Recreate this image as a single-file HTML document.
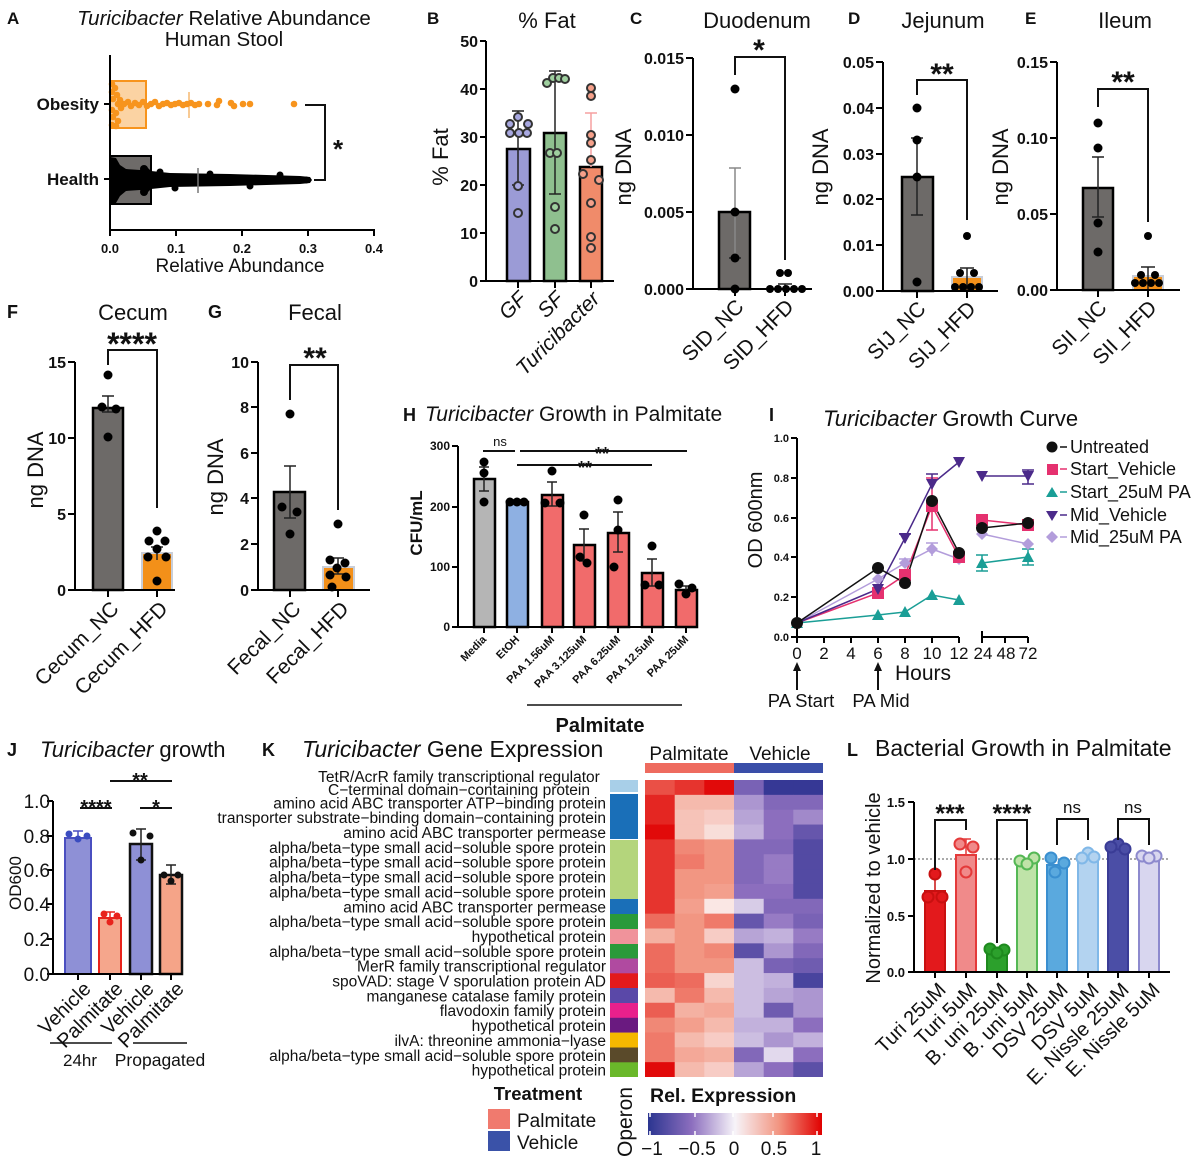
<!DOCTYPE html>
<html><head><meta charset="utf-8"><style>
html,body{margin:0;padding:0;background:#fff}
svg{display:block}
text{font-family:"Liberation Sans",Arial,sans-serif;fill:#111}
.b{font-weight:bold}
.ax{stroke:#000;stroke-width:2;fill:none}
.eb{stroke:#222;stroke-width:1.5;fill:none}
.br{stroke:#111;stroke-width:2;fill:none}
</style></head><body>
<svg width="1200" height="1165" viewBox="0 0 1200 1165" xmlns="http://www.w3.org/2000/svg">
<rect width="1200" height="1165" fill="#fff"/>

<!-- ================= A ================= -->
<text x="7" y="24" class="b" font-size="17">A</text>
<text x="224" y="25" text-anchor="middle" font-size="20.5"><tspan font-style="italic">Turicibacter</tspan> Relative Abundance</text>
<text x="224" y="46" text-anchor="middle" font-size="20.5">Human Stool</text>
<rect x="110" y="81" width="36" height="47" fill="#fbd3a3" stroke="#f7941d" stroke-width="2"/>
<line x1="189" y1="92" x2="189" y2="118" stroke="#f5b870" stroke-width="1.5"/>
<g fill="#f7941d">
<circle cx="112" cy="84" r="3.3"/><circle cx="115" cy="88" r="3.3"/><circle cx="112" cy="92" r="3.3"/><circle cx="117" cy="95" r="3.3"/><circle cx="113" cy="99" r="3.3"/><circle cx="120" cy="100" r="3.3"/><circle cx="112" cy="110" r="3.3"/><circle cx="116" cy="113" r="3.3"/><circle cx="113" cy="117" r="3.3"/><circle cx="118" cy="121" r="3.3"/><circle cx="112" cy="125" r="3.3"/><circle cx="116" cy="126" r="3.3"/><circle cx="121" cy="108" r="3.3"/><circle cx="124" cy="104" r="3.3"/>
<circle cx="118" cy="104" r="3.3"/><circle cx="128" cy="102" r="3.3"/><circle cx="131" cy="106" r="3.3"/><circle cx="135" cy="103" r="3.3"/><circle cx="139" cy="105" r="3.3"/><circle cx="143" cy="102" r="3.3"/><circle cx="147" cy="106" r="3.3"/><circle cx="151" cy="104" r="3.3"/><circle cx="155" cy="102" r="3.3"/><circle cx="159" cy="106" r="3.3"/><circle cx="163" cy="104" r="3.3"/><circle cx="167" cy="103" r="3.3"/><circle cx="171" cy="105" r="3.3"/><circle cx="175" cy="104" r="3.3"/><circle cx="179" cy="103" r="3.3"/><circle cx="183" cy="105" r="3.3"/><circle cx="187" cy="104" r="3.3"/><circle cx="191" cy="103" r="3.3"/><circle cx="195" cy="105" r="3.3"/><circle cx="199" cy="104" r="3.3"/>
<circle cx="208" cy="104" r="3.3"/><circle cx="217" cy="105" r="3.3"/><circle cx="219" cy="101" r="3.3"/><circle cx="231" cy="103" r="3.3"/><circle cx="234" cy="106" r="3.3"/><circle cx="243" cy="104" r="3.3"/><circle cx="250" cy="104" r="3.3"/><circle cx="294" cy="104" r="3.3"/>
</g>
<rect x="110" y="156" width="41" height="48" fill="#6e6b69" stroke="#000" stroke-width="2"/>
<path d="M110,157 L116,158 L120,165 L126,169 L140,170 L146,166 L151,171 L170,173 L230,174 L300,176 L310,177 L312,180 L310,183 L300,184 L230,186 L170,187 L151,189 L146,194 L140,190 L126,191 L120,196 L116,203 L110,204 Z" fill="#000"/>
<g fill="#000"><circle cx="144" cy="169" r="4"/><circle cx="144" cy="192" r="4"/><circle cx="160" cy="172" r="3.5"/><circle cx="175" cy="188" r="3.5"/><circle cx="210" cy="174" r="3.5"/><circle cx="250" cy="186" r="3.5"/><circle cx="280" cy="175" r="3.5"/><circle cx="306" cy="180" r="3.5"/></g>
<line x1="198" y1="168" x2="198" y2="193" stroke="#777" stroke-width="1.5"/>
<path class="ax" d="M110,55 V230 H375"/>
<path class="ax" d="M104,104 H110 M104,179 H110 M110,230 V236 M176,230 V236 M242,230 V236 M308,230 V236 M374,230 V236"/>
<g class="b" font-size="13" text-anchor="middle"><text x="110" y="253">0.0</text><text x="176" y="253">0.1</text><text x="242" y="253">0.2</text><text x="308" y="253">0.3</text><text x="374" y="253">0.4</text></g>
<text x="240" y="272" text-anchor="middle" font-size="19">Relative Abundance</text>
<text x="99" y="110" text-anchor="end" class="b" font-size="17">Obesity</text>
<text x="99" y="185" text-anchor="end" class="b" font-size="17">Health</text>
<path class="br" d="M305,105 H325 V180 H314"/>
<text x="338" y="158" text-anchor="middle" class="b" font-size="26">*</text>

<!-- ================= B ================= -->
<text x="427" y="24" class="b" font-size="17">B</text>
<text x="547" y="28" text-anchor="middle" font-size="22">% Fat</text>
<text transform="translate(448,157) rotate(-90)" text-anchor="middle" font-size="22">% Fat</text>
<rect x="507" y="149" width="23" height="132" fill="#9b9bd6" stroke="#000" stroke-width="2.5"/>
<rect x="544" y="133" width="22" height="148" fill="#8fc08f" stroke="#000" stroke-width="2.5"/>
<rect x="580" y="167" width="22" height="114" fill="#f08b6a" stroke="#000" stroke-width="2.5"/>
<path class="eb" stroke="#333" d="M518,111 V185 M512,111 h12 M512,185 h12 M555,71 V194 M549,71 h12 M549,194 h12"/>
<path d="M591,113 V167 M585,113 h12" stroke="#f5a0a0" stroke-width="1.5" fill="none"/>
<g stroke="#333" stroke-width="2">
<g fill="#a8a8e0"><circle cx="518" cy="117" r="4"/><circle cx="510" cy="124" r="4"/><circle cx="528" cy="124" r="4"/><circle cx="519" cy="133" r="4"/><circle cx="527" cy="133" r="4"/><circle cx="510" cy="133" r="4"/><circle cx="518" cy="186" r="4"/><circle cx="518" cy="213" r="4"/></g>
<g fill="#9fd09f"><circle cx="547" cy="83" r="4"/><circle cx="553" cy="78" r="4"/><circle cx="559" cy="78" r="4"/><circle cx="565" cy="79" r="4"/><circle cx="550" cy="153" r="4"/><circle cx="557" cy="153" r="4"/><circle cx="555" cy="207" r="4"/><circle cx="555" cy="229" r="4"/></g>
<g fill="#f5a08a"><circle cx="591" cy="88" r="4"/><circle cx="591" cy="96" r="4"/><circle cx="591" cy="135" r="4"/><circle cx="591" cy="143" r="4"/><circle cx="591" cy="160" r="4"/><circle cx="583" cy="174" r="4"/><circle cx="599" cy="180" r="4"/><circle cx="591" cy="203" r="4"/><circle cx="591" cy="237" r="4"/><circle cx="591" cy="248" r="4"/></g>
</g>
<path class="ax" d="M486,41 V281 H614"/>
<path class="ax" d="M480,41 H486 M480,89 H486 M480,137 H486 M480,185 H486 M480,233 H486 M480,281 H486 M518,281 V288 M555,281 V288 M591,281 V288"/>
<g class="b" font-size="16" text-anchor="end"><text x="478" y="47">50</text><text x="478" y="95">40</text><text x="478" y="143">30</text><text x="478" y="191">20</text><text x="478" y="239">10</text><text x="478" y="287">0</text></g>
<g font-size="21" text-anchor="end" font-style="italic">
<text transform="translate(528,300) rotate(-45)">GF</text>
<text transform="translate(565,300) rotate(-45)">SF</text>
<text transform="translate(601,300) rotate(-45)">Turicibacter</text>
</g>

<!-- ================= C ================= -->
<text x="630" y="24" class="b" font-size="17">C</text>
<text x="757" y="28" text-anchor="middle" font-size="22">Duodenum</text>
<text transform="translate(631,167) rotate(-90)" text-anchor="middle" font-size="22">ng DNA</text>
<rect x="719" y="212" width="31" height="77" fill="#6d6a68" stroke="#000" stroke-width="2.5"/>
<path d="M735,168 V258 M729,168 h12" stroke="#888" stroke-width="1.5" fill="none"/>
<path class="eb" d="M729,258 h12 M785,284 V289 M778,284 h14"/>
<g fill="#000"><circle cx="735" cy="89" r="4.5"/><circle cx="735" cy="212" r="4.5"/><circle cx="735" cy="258" r="4.5"/><circle cx="735" cy="289" r="4.5"/>
<circle cx="780" cy="273" r="4"/><circle cx="788" cy="273" r="4"/><circle cx="770" cy="289" r="4"/><circle cx="778" cy="289" r="4"/><circle cx="786" cy="289" r="4"/><circle cx="794" cy="289" r="4"/><circle cx="802" cy="289" r="4"/></g>
<path class="ax" d="M693,58 V289 H812"/>
<path class="ax" d="M686,58 H693 M686,135 H693 M686,212 H693 M686,289 H693 M735,289 V296 M785,289 V296"/>
<g class="b" font-size="16" text-anchor="end"><text x="684" y="64">0.015</text><text x="684" y="141">0.010</text><text x="684" y="218">0.005</text><text x="684" y="295">0.000</text></g>
<path class="br" d="M735,75 V57 H785 V260"/>
<text x="759" y="60" text-anchor="middle" class="b" font-size="30">*</text>
<g font-size="21" text-anchor="end"><text transform="translate(745,308) rotate(-45)">SID_NC</text><text transform="translate(795,308) rotate(-45)">SID_HFD</text></g>

<!-- ================= D ================= -->
<text x="848" y="24" class="b" font-size="17">D</text>
<text x="943" y="28" text-anchor="middle" font-size="22">Jejunum</text>
<text transform="translate(828,167) rotate(-90)" text-anchor="middle" font-size="22">ng DNA</text>
<rect x="902" y="177" width="31" height="114" fill="#6d6a68" stroke="#000" stroke-width="2.5"/>
<rect x="952" y="277" width="30" height="14" fill="#f39019" stroke="#c9ced8" stroke-width="2"/>
<path class="eb" d="M917,138 V215 M911,138 h12 M911,215 h12 M967,268 V291 M960,268 h14"/>
<g fill="#000"><circle cx="917" cy="108" r="4.5"/><circle cx="917" cy="140" r="4.5"/><circle cx="917" cy="177" r="4.5"/><circle cx="917" cy="282" r="4.5"/>
<circle cx="967" cy="236" r="4"/><circle cx="960" cy="273" r="4"/><circle cx="974" cy="273" r="4"/><circle cx="955" cy="287" r="4"/><circle cx="963" cy="287" r="4"/><circle cx="971" cy="287" r="4"/><circle cx="979" cy="287" r="4"/></g>
<path class="ax" d="M883,62 V291 H998"/>
<path class="ax" d="M876,62 H883 M876,108 H883 M876,154 H883 M876,199 H883 M876,245 H883 M876,291 H883 M917,291 V298 M967,291 V298"/>
<g class="b" font-size="16" text-anchor="end"><text x="874" y="68">0.05</text><text x="874" y="114">0.04</text><text x="874" y="160">0.03</text><text x="874" y="205">0.02</text><text x="874" y="251">0.01</text><text x="874" y="297">0.00</text></g>
<path class="br" d="M917,95 V80 H967 V220"/>
<text x="942" y="84" text-anchor="middle" class="b" font-size="30">**</text>
<g font-size="21" text-anchor="end"><text transform="translate(927,310) rotate(-45)">SIJ_NC</text><text transform="translate(977,310) rotate(-45)">SIJ_HFD</text></g>

<!-- ================= E ================= -->
<text x="1025" y="24" class="b" font-size="17">E</text>
<text x="1125" y="28" text-anchor="middle" font-size="22">Ileum</text>
<text transform="translate(1008,167) rotate(-90)" text-anchor="middle" font-size="22">ng DNA</text>
<rect x="1083" y="188" width="30" height="102" fill="#6d6a68" stroke="#000" stroke-width="2.5"/>
<rect x="1133" y="276" width="30" height="14" fill="#f39019" stroke="#c9ced8" stroke-width="2"/>
<path class="eb" d="M1098,157 V217 M1092,157 h12 M1092,217 h12 M1148,267 V290 M1141,267 h14"/>
<g fill="#000"><circle cx="1098" cy="123" r="4.5"/><circle cx="1098" cy="148" r="4.5"/><circle cx="1098" cy="223" r="4.5"/><circle cx="1098" cy="252" r="4.5"/>
<circle cx="1148" cy="236" r="4"/><circle cx="1141" cy="275" r="4"/><circle cx="1155" cy="275" r="4"/><circle cx="1135" cy="283" r="4"/><circle cx="1143" cy="283" r="4"/><circle cx="1151" cy="283" r="4"/><circle cx="1159" cy="283" r="4"/></g>
<path class="ax" d="M1057,62 V290 H1180"/>
<path class="ax" d="M1050,62 H1057 M1050,138 H1057 M1050,214 H1057 M1050,290 H1057 M1098,290 V297 M1148,290 V297"/>
<g class="b" font-size="16" text-anchor="end"><text x="1048" y="68">0.15</text><text x="1048" y="144">0.10</text><text x="1048" y="220">0.05</text><text x="1048" y="296">0.00</text></g>
<path class="br" d="M1098,107 V89 H1148 V222"/>
<text x="1123" y="92" text-anchor="middle" class="b" font-size="30">**</text>
<g font-size="21" text-anchor="end"><text transform="translate(1108,309) rotate(-45)">SII_NC</text><text transform="translate(1158,309) rotate(-45)">SII_HFD</text></g>

<!-- ================= F ================= -->
<text x="7" y="318" class="b" font-size="18">F</text>
<text x="133" y="320" text-anchor="middle" font-size="22">Cecum</text>
<text transform="translate(43,470) rotate(-90)" text-anchor="middle" font-size="22">ng DNA</text>
<rect x="93" y="408" width="30" height="182" fill="#6d6a68" stroke="#000" stroke-width="2.5"/>
<rect x="142" y="553" width="30" height="37" fill="#f39019" stroke="#c9ced8" stroke-width="2"/>
<path class="eb" d="M108,396 V412 M102,396 h12 M102,412 h12 M157,547 V560 M151,547 h12"/>
<g fill="#000"><circle cx="108" cy="375" r="4.5"/><circle cx="102" cy="407" r="4.5"/><circle cx="116" cy="409" r="4.5"/><circle cx="108" cy="437" r="4.5"/>
<circle cx="157" cy="531" r="4.5"/><circle cx="149" cy="541" r="4.5"/><circle cx="165" cy="541" r="4.5"/><circle cx="157" cy="549" r="4.5"/><circle cx="148" cy="557" r="4.5"/><circle cx="166" cy="557" r="4.5"/><circle cx="157" cy="581" r="4.5"/></g>
<path class="ax" d="M75,362 V590 H175"/>
<path class="ax" d="M68,362 H75 M68,438 H75 M68,514 H75 M68,590 H75 M108,590 V597 M157,590 V597"/>
<g class="b" font-size="16" text-anchor="end"><text x="66" y="368">15</text><text x="66" y="444">10</text><text x="66" y="520">5</text><text x="66" y="596">0</text></g>
<path class="br" d="M108,365 V350 H157 V508"/>
<text x="132" y="355" text-anchor="middle" class="b" font-size="32">****</text>
<g font-size="21" text-anchor="end"><text transform="translate(120,610) rotate(-45)">Cecum_NC</text><text transform="translate(169,610) rotate(-45)">Cecum_HFD</text></g>

<!-- ================= G ================= -->
<text x="208" y="318" class="b" font-size="18">G</text>
<text x="315" y="320" text-anchor="middle" font-size="22">Fecal</text>
<text transform="translate(223,477) rotate(-90)" text-anchor="middle" font-size="22">ng DNA</text>
<rect x="274" y="492" width="31" height="98" fill="#6d6a68" stroke="#000" stroke-width="2.5"/>
<rect x="323" y="567" width="31" height="23" fill="#f39019" stroke="#c9ced8" stroke-width="2"/>
<path class="eb" d="M290,466 V518 M284,466 h12 M284,518 h12 M338,558 V574 M332,558 h12 M332,574 h12"/>
<g fill="#000"><circle cx="290" cy="414" r="4.5"/><circle cx="282" cy="507" r="4.5"/><circle cx="297" cy="512" r="4.5"/><circle cx="290" cy="534" r="4.5"/>
<circle cx="338" cy="524" r="4.5"/><circle cx="330" cy="560" r="4.5"/><circle cx="345" cy="563" r="4.5"/><circle cx="337" cy="568" r="4.5"/><circle cx="330" cy="575" r="4.5"/><circle cx="346" cy="577" r="4.5"/><circle cx="332" cy="587" r="4.5"/></g>
<path class="ax" d="M258,362 V590 H370"/>
<path class="ax" d="M251,362 H258 M251,407 H258 M251,453 H258 M251,498 H258 M251,544 H258 M251,590 H258 M290,590 V597 M338,590 V597"/>
<g class="b" font-size="16" text-anchor="end"><text x="249" y="368">10</text><text x="249" y="413">8</text><text x="249" y="459">6</text><text x="249" y="504">4</text><text x="249" y="550">2</text><text x="249" y="596">0</text></g>
<path class="br" d="M290,400 V365 H338 V510"/>
<text x="315" y="368" text-anchor="middle" class="b" font-size="30">**</text>
<g font-size="21" text-anchor="end"><text transform="translate(302,610) rotate(-45)">Fecal_NC</text><text transform="translate(350,610) rotate(-45)">Fecal_HFD</text></g>

<!-- ================= H ================= -->
<text x="403" y="421" class="b" font-size="18">H</text>
<text x="425" y="421" font-size="21"><tspan font-style="italic">Turicibacter</tspan> Growth in Palmitate</text>
<text transform="translate(422,523) rotate(-90)" text-anchor="middle" class="b" font-size="17">CFU/mL</text>
<g stroke="#000" stroke-width="2.5">
<rect x="474" y="479" width="21" height="148" fill="#b5b5b5"/>
<rect x="507" y="502" width="21" height="125" fill="#8eb0e2"/>
<g fill="#f16b6b">
<rect x="542" y="495" width="21" height="132"/>
<rect x="574" y="545" width="21" height="82"/>
<rect x="608" y="533" width="21" height="94"/>
<rect x="642" y="573" width="21" height="54"/>
<rect x="676" y="590" width="21" height="37"/>
</g></g>
<path class="eb" d="M484,467 V491 M479,467 h10 M479,491 h10 M552,482 V506 M547,482 h10 M547,506 h10 M584,529 V561 M579,529 h10 M579,561 h10 M618,512 V552 M613,512 h10 M613,552 h10 M652,559 V586 M647,559 h10 M647,586 h10 M686,586 V593 M681,586 h10"/>
<g fill="#000">
<circle cx="484" cy="462" r="4.5"/><circle cx="484" cy="473" r="4.5"/><circle cx="484" cy="502" r="4.5"/>
<circle cx="510" cy="502" r="4.5"/><circle cx="517" cy="502" r="4.5"/><circle cx="524" cy="502" r="4.5"/>
<circle cx="552" cy="471" r="4.5"/><circle cx="545" cy="503" r="4.5"/><circle cx="560" cy="503" r="4.5"/>
<circle cx="584" cy="515" r="4.5"/><circle cx="580" cy="557" r="4.5"/><circle cx="587" cy="563" r="4.5"/>
<circle cx="618" cy="500" r="4.5"/><circle cx="618" cy="530" r="4.5"/><circle cx="614" cy="567" r="4.5"/>
<circle cx="652" cy="546" r="4.5"/><circle cx="645" cy="585" r="4.5"/><circle cx="659" cy="585" r="4.5"/>
<circle cx="679" cy="584" r="4.5"/><circle cx="692" cy="588" r="4.5"/><circle cx="686" cy="594" r="4.5"/>
</g>
<path class="ax" d="M458,446 V627 H693"/>
<path class="ax" d="M452,446 H458 M452,507 H458 M452,567 H458 M452,627 H458 M484,627 V633 M517,627 V633 M552,627 V633 M584,627 V633 M618,627 V633 M652,627 V633 M686,627 V633"/>
<g class="b" font-size="12" text-anchor="end"><text x="450" y="450">300</text><text x="450" y="511">200</text><text x="450" y="571">100</text><text x="450" y="631">0</text></g>
<path d="M483,451 H515 M520,451 H687 M517,465 H652" stroke="#111" stroke-width="2"/>
<text x="500" y="446" text-anchor="middle" font-size="13">ns</text>
<text x="602" y="460" text-anchor="middle" class="b" font-size="18">**</text>
<text x="585" y="474" text-anchor="middle" class="b" font-size="18">**</text>
<g class="b" font-size="11" text-anchor="end">
<text transform="translate(487,640) rotate(-45)">Media</text>
<text transform="translate(520,640) rotate(-45)">EtOH</text>
<text transform="translate(555,640) rotate(-45)">PAA 1.56uM</text>
<text transform="translate(587,640) rotate(-45)">PAA 3.125uM</text>
<text transform="translate(621,640) rotate(-45)">PAA 6.25uM</text>
<text transform="translate(655,640) rotate(-45)">PAA 12.5uM</text>
<text transform="translate(689,640) rotate(-45)">PAA 25uM</text>
</g>
<line x1="527" y1="705" x2="682" y2="705" stroke="#111" stroke-width="1.5"/>
<text x="600" y="732" text-anchor="middle" class="b" font-size="20">Palmitate</text>

<!-- ================= I ================= -->
<text x="769" y="421" class="b" font-size="18">I</text>
<text x="823" y="426" font-size="22"><tspan font-style="italic">Turicibacter</tspan> Growth Curve</text>
<text transform="translate(762,520) rotate(-90)" text-anchor="middle" font-size="20">OD 600nm</text>
<path class="ax" d="M797,438 V637 H959 M982,637 H1028"/>
<path class="ax" d="M791,438 H797 M791,478 H797 M791,518 H797 M791,557 H797 M791,597 H797 M791,637 H797 M797,637 V643 M824,637 V643 M851,637 V643 M878,637 V643 M905,637 V643 M932,637 V643 M959,637 V643 M982,631 V643 M1005,637 V643 M1028,637 V643"/>
<g class="b" font-size="11" text-anchor="end"><text x="789" y="442">1.0</text><text x="789" y="482">0.8</text><text x="789" y="522">0.6</text><text x="789" y="561">0.4</text><text x="789" y="601">0.2</text><text x="789" y="641">0.0</text></g>
<g font-size="17" text-anchor="middle"><text x="797" y="659">0</text><text x="824" y="659">2</text><text x="851" y="659">4</text><text x="878" y="659">6</text><text x="905" y="659">8</text><text x="932" y="659">10</text><text x="959" y="659">12</text><text x="983" y="659">24</text><text x="1006" y="659">48</text><text x="1028" y="659">72</text></g>
<text x="923" y="680" text-anchor="middle" font-size="21">Hours</text>
<path d="M797,690 V668 M878,690 V668" stroke="#111" stroke-width="2"/>
<path d="M797,662 L793,671 L801,671 Z M878,662 L874,671 L882,671 Z" fill="#111"/>
<text x="801" y="707" text-anchor="middle" font-size="18.5">PA Start</text>
<text x="881" y="707" text-anchor="middle" font-size="18.5">PA Mid</text>
<g fill="none" stroke-width="1.5">
<polyline stroke="#1a9e96" points="797,623 878,615 905,612 932,595 959,600"/><polyline stroke="#1a9e96" points="982,563 1028,557"/>
<polyline stroke="#b39ddb" points="797,623 878,579 905,563 932,549 959,559"/><polyline stroke="#b39ddb" points="982,534 1028,544"/>
<polyline stroke="#e5316f" points="797,623 878,593 905,575 932,506 959,557"/><polyline stroke="#e5316f" points="982,520 1028,525"/>
<polyline stroke="#4b2a8a" points="797,623 878,589 905,538 932,484 959,462"/><polyline stroke="#4b2a8a" points="982,476 1028,476"/>
<polyline stroke="#111" points="797,623 878,568 905,583 932,501 959,553"/><polyline stroke="#111" points="982,528 1028,523"/>
<path stroke="#1a9e96" d="M982,555 V571 M976,555 h12 M976,571 h12 M1028,549 V565 M1022,549 h12 M1022,565 h12"/>
<path stroke="#b39ddb" d="M932,543 V556 M926,543 h12 M905,559 V567 M899,559 h12"/>
<path stroke="#e5316f" d="M932,478 V530 M926,478 h12 M926,530 h12"/>
<path stroke="#4b2a8a" d="M905,534 V543 M899,534 h12 M1028,470 V484 M1022,470 h12 M1022,484 h12 M932,474 V481 M926,474 h12"/>
</g>
<g fill="#1a9e96"><path d="M797,617 l-6,11 h12 Z M878,609 l-6,11 h12 Z M905,606 l-6,11 h12 Z M932,589 l-6,11 h12 Z M959,594 l-6,11 h12 Z M982,557 l-6,11 h12 Z M1028,551 l-6,11 h12 Z"/></g>
<g fill="#b39ddb"><path d="M878,573 l6,6 l-6,6 l-6,-6 Z M905,557 l6,6 l-6,6 l-6,-6 Z M932,543 l6,6 l-6,6 l-6,-6 Z M959,553 l6,6 l-6,6 l-6,-6 Z M982,528 l6,6 l-6,6 l-6,-6 Z M1028,538 l6,6 l-6,6 l-6,-6 Z"/></g>
<g fill="#e5316f"><rect x="872" y="587" width="12" height="12"/><rect x="899" y="569" width="12" height="12"/><rect x="926" y="500" width="12" height="12"/><rect x="953" y="551" width="12" height="12"/><rect x="976" y="514" width="12" height="12"/><rect x="1022" y="519" width="12" height="12"/></g>
<g fill="#4b2a8a"><path d="M872,584 h12 l-6,11 Z M899,533 h12 l-6,11 Z M926,479 h12 l-6,11 Z M953,457 h12 l-6,11 Z M976,471 h12 l-6,11 Z M1022,471 h12 l-6,11 Z"/></g>
<g fill="#111"><circle cx="797" cy="623" r="6"/><circle cx="878" cy="568" r="6"/><circle cx="905" cy="583" r="6"/><circle cx="932" cy="501" r="6"/><circle cx="959" cy="553" r="6"/><circle cx="982" cy="528" r="6"/><circle cx="1028" cy="523" r="6"/></g>
<g font-size="18">
<circle cx="1052" cy="447" r="5.5" fill="#111"/><line x1="1060" y1="447" x2="1067" y2="447" stroke="#111" stroke-width="1.5"/><text x="1070" y="453">Untreated</text>
<rect x="1047" y="464" width="11" height="11" fill="#e5316f"/><line x1="1060" y1="469" x2="1067" y2="469" stroke="#e5316f" stroke-width="1.5"/><text x="1070" y="475">Start_Vehicle</text>
<path d="M1052,487 l-6,10 h12 Z" fill="#1a9e96"/><line x1="1060" y1="492" x2="1067" y2="492" stroke="#1a9e96" stroke-width="1.5"/><text x="1070" y="498">Start_25uM PA</text>
<path d="M1046,511 h12 l-6,10 Z" fill="#4b2a8a"/><line x1="1060" y1="515" x2="1067" y2="515" stroke="#4b2a8a" stroke-width="1.5"/><text x="1070" y="521">Mid_Vehicle</text>
<path d="M1052,531 l6,6 l-6,6 l-6,-6 Z" fill="#b39ddb"/><line x1="1060" y1="537" x2="1067" y2="537" stroke="#b39ddb" stroke-width="1.5"/><text x="1070" y="543">Mid_25uM PA</text>
</g>

<!-- ================= J ================= -->
<text x="7" y="756" class="b" font-size="18">J</text>
<text x="40" y="757" font-size="22"><tspan font-style="italic">Turicibacter</tspan> growth</text>
<text transform="translate(21,883) rotate(-90)" text-anchor="middle" font-size="17">OD600</text>
<rect x="65" y="838" width="26" height="136" fill="#8e90d6" stroke="#4a4fc0" stroke-width="2"/>
<rect x="99" y="918" width="22" height="56" fill="#f5a68c" stroke="#e8231c" stroke-width="2"/>
<rect x="130" y="844" width="22" height="130" fill="#8e90d6" stroke="#111" stroke-width="2.5"/>
<rect x="160" y="875" width="22" height="99" fill="#f5a488" stroke="#111" stroke-width="2.5"/>
<path d="M78,831 V842 M73,831 h10" stroke="#4a4fc0" stroke-width="1.5" fill="none"/>
<path d="M110,912 V923 M105,912 h10" stroke="#e8231c" stroke-width="1.5" fill="none"/>
<path class="eb" d="M141,829 V860 M136,829 h10 M136,860 h10 M171,865 V884 M166,865 h10 M166,884 h10"/>
<g fill="#3a4cc0"><circle cx="69" cy="834" r="3.5"/><circle cx="78" cy="839" r="3.5"/><circle cx="87" cy="836" r="3.5"/></g>
<g fill="#e8231c"><circle cx="104" cy="914" r="3.5"/><circle cx="110" cy="922" r="3.5"/><circle cx="117" cy="916" r="3.5"/></g>
<g fill="#111"><circle cx="133" cy="833" r="3.5"/><circle cx="150" cy="836" r="3.5"/><circle cx="141" cy="860" r="3.5"/><circle cx="164" cy="875" r="3.5"/><circle cx="178" cy="875" r="3.5"/><circle cx="171" cy="881" r="3.5"/></g>
<path class="ax" d="M53,801 V974 H182"/>
<path class="ax" d="M47,801 H53 M47,836 H53 M47,870 H53 M47,904 H53 M47,939 H53 M47,974 H53 M78,974 V980 M110,974 V980 M141,974 V980 M171,974 V980"/>
<g font-size="19" text-anchor="end"><text x="50" y="808">1.0</text><text x="50" y="843">0.8</text><text x="50" y="877">0.6</text><text x="50" y="911">0.4</text><text x="50" y="946">0.2</text><text x="50" y="981">0.0</text></g>
<path d="M80,808 H112 M140,808 H172 M110,781 H172" stroke="#111" stroke-width="2"/>
<text x="96" y="814" text-anchor="middle" class="b" font-size="20">****</text>
<text x="156" y="814" text-anchor="middle" class="b" font-size="20">*</text>
<text x="140" y="787" text-anchor="middle" class="b" font-size="20">**</text>
<g font-size="20" text-anchor="end">
<text transform="translate(92,990) rotate(-45)">Vehicle</text>
<text transform="translate(124,990) rotate(-45)">Palmitate</text>
<text transform="translate(155,990) rotate(-45)">Vehicle</text>
<text transform="translate(185,990) rotate(-45)">Palmitate</text>
</g>
<path d="M50,1043 H112 M133,1043 H187" stroke="#111" stroke-width="1.5"/>
<text x="80" y="1066" text-anchor="middle" font-size="17">24hr</text>
<text x="160" y="1066" text-anchor="middle" font-size="17.5">Propagated</text>

<!-- ================= K ================= -->
<text x="262" y="756" class="b" font-size="18">K</text>
<text x="302" y="757" font-size="23"><tspan font-style="italic">Turicibacter</tspan> Gene Expression</text>
<g font-size="15.5">
<text x="459" y="782" text-anchor="middle">TetR/AcrR family transcriptional regulator</text>
<text x="459" y="795" text-anchor="middle">C−terminal domain−containing protein</text>
</g>
<g font-size="15.5" text-anchor="end">
<text x="606" y="808.3">amino acid ABC transporter ATP−binding protein</text>
<text x="606" y="823.2">transporter substrate−binding domain−containing protein</text>
<text x="606" y="838">amino acid ABC transporter permease</text>
<text x="606" y="852.9">alpha/beta−type small acid−soluble spore protein</text>
<text x="606" y="867.7">alpha/beta−type small acid−soluble spore protein</text>
<text x="606" y="882.6">alpha/beta−type small acid−soluble spore protein</text>
<text x="606" y="897.4">alpha/beta−type small acid−soluble spore protein</text>
<text x="606" y="912.3">amino acid ABC transporter permease</text>
<text x="606" y="927.1">alpha/beta−type small acid−soluble spore protein</text>
<text x="606" y="942">hypothetical protein</text>
<text x="606" y="956.8">alpha/beta−type small acid−soluble spore protein</text>
<text x="606" y="971.7">MerR family transcriptional regulator</text>
<text x="606" y="986.5">spoVAD: stage V sporulation protein AD</text>
<text x="606" y="1001.4">manganese catalase family protein</text>
<text x="606" y="1016.2">flavodoxin family protein</text>
<text x="606" y="1031.1">hypothetical protein</text>
<text x="606" y="1045.9">ilvA: threonine ammonia−lyase</text>
<text x="606" y="1060.8">alpha/beta−type small acid−soluble spore protein</text>
<text x="606" y="1075.6">hypothetical protein</text>
</g>
<!-- operon column -->
<rect x="610" y="780" width="28" height="12" fill="#a8cfe8"/>
<rect x="610" y="794" width="28" height="45" fill="#1a6fb8"/>
<rect x="610" y="840" width="28" height="59" fill="#b4d57c"/>
<rect x="610" y="899" width="28" height="15" fill="#1a6fb8"/>
<rect x="610" y="914" width="28" height="15" fill="#2a9a3a"/>
<rect x="610" y="929" width="28" height="15" fill="#f0939b"/>
<rect x="610" y="944" width="28" height="14.5" fill="#2a9a3a"/>
<rect x="610" y="958.5" width="28" height="15" fill="#b04aa0"/>
<rect x="610" y="973.3" width="28" height="15" fill="#e31a1c"/>
<rect x="610" y="988" width="28" height="15" fill="#5a48a8"/>
<rect x="610" y="1003" width="28" height="15" fill="#e8208c"/>
<rect x="610" y="1017.8" width="28" height="15" fill="#6a1a80"/>
<rect x="610" y="1032.6" width="28" height="15" fill="#f5b800"/>
<rect x="610" y="1047.5" width="28" height="15" fill="#5a4a2a"/>
<rect x="610" y="1062.3" width="28" height="14.7" fill="#6ab82a"/>
<!-- header -->
<text x="689" y="760" text-anchor="middle" font-size="19">Palmitate</text>
<text x="780" y="760" text-anchor="middle" font-size="19">Vehicle</text>
<rect x="645" y="763" width="89" height="10" fill="#ee6b5f"/>
<rect x="734" y="763" width="89" height="10" fill="#3a4ea8"/>
<!-- heatmap -->
<g>
<g transform="translate(0,780)"><rect x="645" width="30" height="15.3" fill="#ea5046"/><rect x="674.7" width="30" height="15.3" fill="#e6342e"/><rect x="704.3" width="30" height="15.3" fill="#e10a0a"/><rect x="734" width="30" height="15.3" fill="#7962b5"/><rect x="763.7" width="30" height="15.3" fill="#363895"/><rect x="793.3" width="29.7" height="15.3" fill="#363895"/></g>
<g transform="translate(0,794.85)"><rect x="645" width="30" height="15.3" fill="#e42622"/><rect x="674.7" width="30" height="15.3" fill="#f5baad"/><rect x="704.3" width="30" height="15.3" fill="#f5baad"/><rect x="734" width="30" height="15.3" fill="#ac96d0"/><rect x="763.7" width="30" height="15.3" fill="#8268b9"/><rect x="793.3" width="29.7" height="15.3" fill="#8268b9"/></g>
<g transform="translate(0,809.7)"><rect x="645" width="30" height="15.3" fill="#e42622"/><rect x="674.7" width="30" height="15.3" fill="#f6c3b8"/><rect x="704.3" width="30" height="15.3" fill="#f7ccc5"/><rect x="734" width="30" height="15.3" fill="#b7a4d6"/><rect x="763.7" width="30" height="15.3" fill="#8c6ebe"/><rect x="793.3" width="29.7" height="15.3" fill="#a189ca"/></g>
<g transform="translate(0,824.55)"><rect x="645" width="30" height="15.3" fill="#e10a0a"/><rect x="674.7" width="30" height="15.3" fill="#f6c3b8"/><rect x="704.3" width="30" height="15.3" fill="#f8ded9"/><rect x="734" width="30" height="15.3" fill="#c2b1dc"/><rect x="763.7" width="30" height="15.3" fill="#8c6ebe"/><rect x="793.3" width="29.7" height="15.3" fill="#6656ac"/></g>
<g transform="translate(0,839.4)"><rect x="645" width="30" height="15.3" fill="#e6342e"/><rect x="674.7" width="30" height="15.3" fill="#f08876"/><rect x="704.3" width="30" height="15.3" fill="#f29682"/><rect x="734" width="30" height="15.3" fill="#8268b9"/><rect x="763.7" width="30" height="15.3" fill="#8268b9"/><rect x="793.3" width="29.7" height="15.3" fill="#534aa3"/></g>
<g transform="translate(0,854.25)"><rect x="645" width="30" height="15.3" fill="#e6342e"/><rect x="674.7" width="30" height="15.3" fill="#ef7a6a"/><rect x="704.3" width="30" height="15.3" fill="#f29682"/><rect x="734" width="30" height="15.3" fill="#8268b9"/><rect x="763.7" width="30" height="15.3" fill="#977bc4"/><rect x="793.3" width="29.7" height="15.3" fill="#534aa3"/></g>
<g transform="translate(0,869.1)"><rect x="645" width="30" height="15.3" fill="#e6342e"/><rect x="674.7" width="30" height="15.3" fill="#f29682"/><rect x="704.3" width="30" height="15.3" fill="#f29682"/><rect x="734" width="30" height="15.3" fill="#8268b9"/><rect x="763.7" width="30" height="15.3" fill="#977bc4"/><rect x="793.3" width="29.7" height="15.3" fill="#534aa3"/></g>
<g transform="translate(0,883.95)"><rect x="645" width="30" height="15.3" fill="#e6342e"/><rect x="674.7" width="30" height="15.3" fill="#f29682"/><rect x="704.3" width="30" height="15.3" fill="#f39f8d"/><rect x="734" width="30" height="15.3" fill="#8c6ebe"/><rect x="763.7" width="30" height="15.3" fill="#8c6ebe"/><rect x="793.3" width="29.7" height="15.3" fill="#534aa3"/></g>
<g transform="translate(0,898.8)"><rect x="645" width="30" height="15.3" fill="#e6342e"/><rect x="674.7" width="30" height="15.3" fill="#f39f8d"/><rect x="704.3" width="30" height="15.3" fill="#fae7e4"/><rect x="734" width="30" height="15.3" fill="#d7cce7"/><rect x="763.7" width="30" height="15.3" fill="#8268b9"/><rect x="793.3" width="29.7" height="15.3" fill="#8268b9"/></g>
<g transform="translate(0,913.65)"><rect x="645" width="30" height="15.3" fill="#ed6c5e"/><rect x="674.7" width="30" height="15.3" fill="#f29682"/><rect x="704.3" width="30" height="15.3" fill="#ef7a6a"/><rect x="734" width="30" height="15.3" fill="#6656ac"/><rect x="763.7" width="30" height="15.3" fill="#977bc4"/><rect x="793.3" width="29.7" height="15.3" fill="#7962b5"/></g>
<g transform="translate(0,928.5)"><rect x="645" width="30" height="15.3" fill="#f4b1a2"/><rect x="674.7" width="30" height="15.3" fill="#f29682"/><rect x="704.3" width="30" height="15.3" fill="#f7ccc5"/><rect x="734" width="30" height="15.3" fill="#b7a4d6"/><rect x="763.7" width="30" height="15.3" fill="#c2b1dc"/><rect x="793.3" width="29.7" height="15.3" fill="#977bc4"/></g>
<g transform="translate(0,943.35)"><rect x="645" width="30" height="15.3" fill="#ed6c5e"/><rect x="674.7" width="30" height="15.3" fill="#f29682"/><rect x="704.3" width="30" height="15.3" fill="#f08876"/><rect x="734" width="30" height="15.3" fill="#5c50a7"/><rect x="763.7" width="30" height="15.3" fill="#ac96d0"/><rect x="793.3" width="29.7" height="15.3" fill="#8268b9"/></g>
<g transform="translate(0,958.2)"><rect x="645" width="30" height="15.3" fill="#ed6c5e"/><rect x="674.7" width="30" height="15.3" fill="#f29682"/><rect x="704.3" width="30" height="15.3" fill="#f29682"/><rect x="734" width="30" height="15.3" fill="#ccbee1"/><rect x="763.7" width="30" height="15.3" fill="#7962b5"/><rect x="793.3" width="29.7" height="15.3" fill="#6f5cb0"/></g>
<g transform="translate(0,973.05)"><rect x="645" width="30" height="15.3" fill="#eb5e52"/><rect x="674.7" width="30" height="15.3" fill="#ed6c5e"/><rect x="704.3" width="30" height="15.3" fill="#f7d5cf"/><rect x="734" width="30" height="15.3" fill="#ccbee1"/><rect x="763.7" width="30" height="15.3" fill="#c2b1dc"/><rect x="793.3" width="29.7" height="15.3" fill="#49449e"/></g>
<g transform="translate(0,987.9)"><rect x="645" width="30" height="15.3" fill="#f5baad"/><rect x="674.7" width="30" height="15.3" fill="#ef7a6a"/><rect x="704.3" width="30" height="15.3" fill="#f5baad"/><rect x="734" width="30" height="15.3" fill="#ccbee1"/><rect x="763.7" width="30" height="15.3" fill="#b7a4d6"/><rect x="793.3" width="29.7" height="15.3" fill="#ac96d0"/></g>
<g transform="translate(0,1002.75)"><rect x="645" width="30" height="15.3" fill="#eb5e52"/><rect x="674.7" width="30" height="15.3" fill="#f4b1a2"/><rect x="704.3" width="30" height="15.3" fill="#f4a898"/><rect x="734" width="30" height="15.3" fill="#ccbee1"/><rect x="763.7" width="30" height="15.3" fill="#6f5cb0"/><rect x="793.3" width="29.7" height="15.3" fill="#ac96d0"/></g>
<g transform="translate(0,1017.6)"><rect x="645" width="30" height="15.3" fill="#f08876"/><rect x="674.7" width="30" height="15.3" fill="#f39f8d"/><rect x="704.3" width="30" height="15.3" fill="#f5baad"/><rect x="734" width="30" height="15.3" fill="#c2b1dc"/><rect x="763.7" width="30" height="15.3" fill="#c2b1dc"/><rect x="793.3" width="29.7" height="15.3" fill="#8c6ebe"/></g>
<g transform="translate(0,1032.45)"><rect x="645" width="30" height="15.3" fill="#ef7a6a"/><rect x="674.7" width="30" height="15.3" fill="#f5baad"/><rect x="704.3" width="30" height="15.3" fill="#f7ccc5"/><rect x="734" width="30" height="15.3" fill="#ccbee1"/><rect x="763.7" width="30" height="15.3" fill="#ac96d0"/><rect x="793.3" width="29.7" height="15.3" fill="#c2b1dc"/></g>
<g transform="translate(0,1047.3)"><rect x="645" width="30" height="15.3" fill="#ef7a6a"/><rect x="674.7" width="30" height="15.3" fill="#f4a898"/><rect x="704.3" width="30" height="15.3" fill="#f4b1a2"/><rect x="734" width="30" height="15.3" fill="#8268b9"/><rect x="763.7" width="30" height="15.3" fill="#e2d9ed"/><rect x="793.3" width="29.7" height="15.3" fill="#8c6ebe"/></g>
<g transform="translate(0,1062.15)"><rect x="645" width="30" height="14.85" fill="#e10a0a"/><rect x="674.7" width="30" height="14.85" fill="#f5baad"/><rect x="704.3" width="30" height="14.85" fill="#f7ccc5"/><rect x="734" width="30" height="14.85" fill="#b7a4d6"/><rect x="763.7" width="30" height="14.85" fill="#8c6ebe"/><rect x="793.3" width="29.7" height="14.85" fill="#5c50a7"/></g>
</g>
<!-- K legends -->
<text x="538" y="1100" text-anchor="middle" class="b" font-size="18.5">Treatment</text>
<rect x="488" y="1109" width="22" height="20" fill="#f07a6e"/>
<rect x="488" y="1131" width="22" height="20" fill="#3a52a8"/>
<text x="517" y="1127" font-size="19">Palmitate</text>
<text x="517" y="1149" font-size="19">Vehicle</text>
<text transform="translate(632,1122) rotate(-90)" text-anchor="middle" font-size="21">Operon</text>
<text x="650" y="1102" class="b" font-size="19.5">Rel. Expression</text>
<defs><linearGradient id="rg" x1="0" x2="1" y1="0" y2="0">
<stop offset="0" stop-color="#2b3590"/><stop offset="0.25" stop-color="#8c6ebe"/><stop offset="0.5" stop-color="#f7f4f9"/><stop offset="0.75" stop-color="#f29682"/><stop offset="1" stop-color="#e00000"/>
</linearGradient></defs>
<rect x="648" y="1113" width="174" height="22" fill="url(#rg)"/>
<path d="M650,1113 v4 M650,1135 v-4 M695,1113 v4 M695,1135 v-4 M733,1113 v4 M733,1135 v-4 M773,1113 v4 M773,1135 v-4 M817,1113 v4 M817,1135 v-4" stroke="#fff" stroke-width="1.5"/>
<g font-size="19" text-anchor="middle"><text x="652" y="1155">−1</text><text x="697" y="1155">−0.5</text><text x="734" y="1155">0</text><text x="774" y="1155">0.5</text><text x="816" y="1155">1</text></g>

<!-- ================= L ================= -->
<text x="847" y="756" class="b" font-size="18">L</text>
<text x="875" y="756" font-size="23">Bacterial Growth in Palmitate</text>
<text transform="translate(880,888) rotate(-90)" text-anchor="middle" font-size="20">Normalized to vehicle</text>
<line x1="914" y1="859" x2="1170" y2="859" stroke="#555" stroke-width="1" stroke-dasharray="2,2"/>
<g stroke-width="2">
<rect x="925" y="891" width="20" height="81" fill="#e3191c" stroke="#c81010"/>
<rect x="956" y="855" width="20" height="117" fill="#f08a8a" stroke="#e43a3a"/>
<rect x="987" y="952" width="20" height="20" fill="#2ca02c" stroke="#1e8a1e"/>
<rect x="1017" y="862" width="20" height="110" fill="#bfe3a8" stroke="#55b855"/>
<rect x="1047" y="865" width="20" height="107" fill="#5aa9de" stroke="#3a8fd0"/>
<rect x="1078" y="856" width="20" height="116" fill="#b3d3f0" stroke="#80b8e8"/>
<rect x="1108" y="848" width="20" height="124" fill="#4b4ea6" stroke="#3a3c96"/>
<rect x="1139" y="857" width="20" height="115" fill="#d8d6ef" stroke="#8d8ace"/>
</g>
<path d="M935,872 V891 M930,872 h10" stroke="#c81010" stroke-width="1.5" fill="none"/>
<path d="M966,839 V855 M961,839 h10" stroke="#e43a3a" stroke-width="1.5" fill="none"/>
<g stroke-width="2">
<g fill="#e3191c" stroke="#c81010"><circle cx="935" cy="874" r="5.5"/><circle cx="928" cy="897" r="5.5"/><circle cx="942" cy="897" r="5.5"/></g>
<g fill="#f08a8a" stroke="#e43a3a"><circle cx="960" cy="844" r="5.5"/><circle cx="973" cy="847" r="5.5"/><circle cx="966" cy="872" r="5.5"/></g>
<g fill="#2ca02c" stroke="#1e8a1e"><circle cx="990" cy="949" r="5.5"/><circle cx="1004" cy="950" r="5.5"/><circle cx="997" cy="953" r="5.5"/></g>
<g fill="#bfe3a8" stroke="#55b855"><circle cx="1020" cy="861" r="5.5"/><circle cx="1034" cy="858" r="5.5"/><circle cx="1027" cy="864" r="5.5"/></g>
<g fill="#5aa9de" stroke="#3a8fd0"><circle cx="1051" cy="858" r="5.5"/><circle cx="1064" cy="863" r="5.5"/><circle cx="1055" cy="872" r="5.5"/></g>
<g fill="#b3d3f0" stroke="#80b8e8"><circle cx="1088" cy="853" r="5.5"/><circle cx="1082" cy="858" r="5.5"/><circle cx="1094" cy="857" r="5.5"/></g>
<g fill="#4b4ea6" stroke="#3a3c96"><circle cx="1118" cy="844" r="5.5"/><circle cx="1111" cy="847" r="5.5"/><circle cx="1125" cy="849" r="5.5"/></g>
<g fill="#d8d6ef" stroke="#8d8ace"><circle cx="1142" cy="856" r="5.5"/><circle cx="1156" cy="856" r="5.5"/><circle cx="1149" cy="858" r="5.5"/></g>
</g>
<path class="ax" d="M914,802 V972 H1170"/>
<path class="ax" d="M908,802 H914 M908,859 H914 M908,916 H914 M908,972 H914 M935,972 V978 M966,972 V978 M997,972 V978 M1027,972 V978 M1057,972 V978 M1088,972 V978 M1118,972 V978 M1149,972 V978"/>
<g class="b" font-size="13" text-anchor="end"><text x="905" y="807">1.5</text><text x="905" y="864">1.0</text><text x="905" y="921">0.5</text><text x="905" y="977">0.0</text></g>
<path class="br" d="M935,870 V820 H966 V830 M997,943 V820 H1027 V850 M1057,845 V819 H1088 V840 M1118,840 V819 H1149 V845"/>
<text x="950" y="822" text-anchor="middle" class="b" font-size="25">***</text>
<text x="1012" y="822" text-anchor="middle" class="b" font-size="25">****</text>
<text x="1072" y="813" text-anchor="middle" font-size="17">ns</text>
<text x="1133" y="813" text-anchor="middle" font-size="17">ns</text>
<g font-size="20" text-anchor="end">
<text transform="translate(947,991) rotate(-45)">Turi 25uM</text>
<text transform="translate(978,991) rotate(-45)">Turi 5uM</text>
<text transform="translate(1009,991) rotate(-45)">B. uni 25uM</text>
<text transform="translate(1039,991) rotate(-45)">B. uni 5uM</text>
<text transform="translate(1069,991) rotate(-45)">DSV 25uM</text>
<text transform="translate(1100,991) rotate(-45)">DSV 5uM</text>
<text transform="translate(1130,991) rotate(-45)">E. Nissle 25uM</text>
<text transform="translate(1161,991) rotate(-45)">E. Nissle 5uM</text>
</g>
</svg>
</body></html>
